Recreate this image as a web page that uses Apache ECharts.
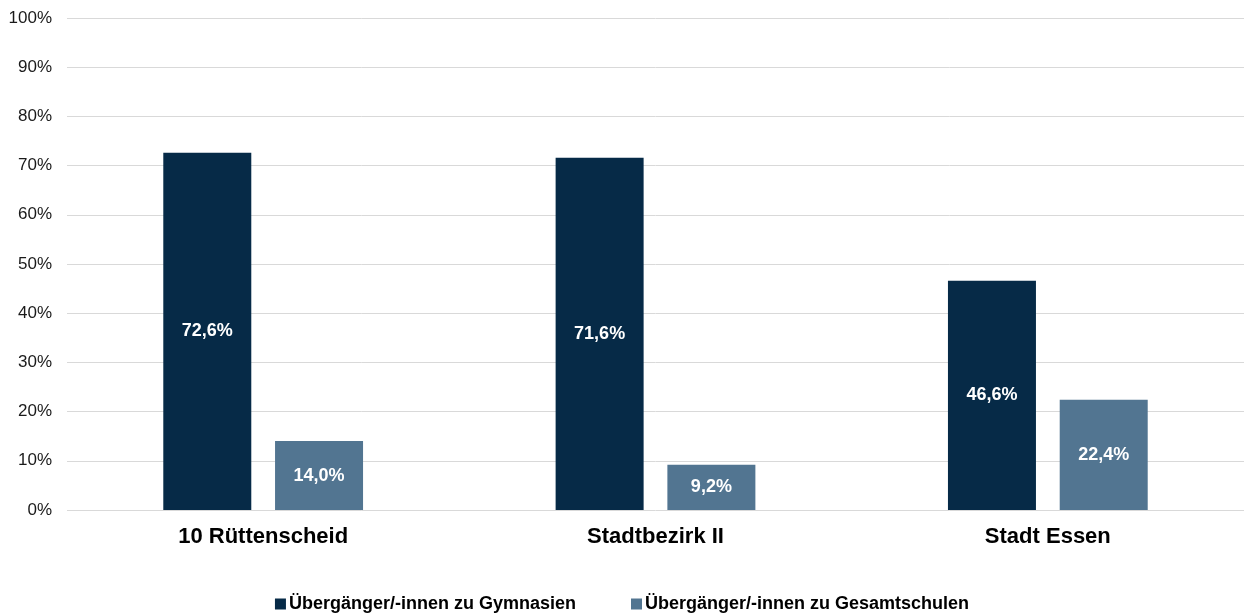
<!DOCTYPE html>
<html><head><meta charset="utf-8">
<script src="https://cdn.jsdelivr.net/npm/echarts@6/dist/echarts.min.js"></script>
<style>html,body{margin:0;padding:0;background:#fff}#c{width:1244px;height:616px}</style>
</head><body><div id="c"></div>
<script>
const categories = ['10 Rüttenscheid', 'Stadtbezirk II', 'Stadt Essen'];
const seriesNames = ['Übergänger/-innen zu Gymnasien', 'Übergänger/-innen zu Gesamtschulen'];
const gymnasien = [72.6, 71.6, 46.6];
const gesamtschulen = [14.0, 9.2, 22.4];
const colors = ['#062a47', '#527591'];

const FONT = 'Liberation Sans, Arial, sans-serif';
const chart = echarts.init(document.getElementById('c'), null, {renderer: 'canvas'});
const labelCfg = {
  show: true, position: 'inside', color: '#fff', fontWeight: 'bold',
  fontFamily: FONT, fontSize: 18,
  formatter: p => p.value.toFixed(1).replace('.', ',') + '%'
};
chart.setOption({
  animation: false,
  grid: {left: 67, right: -4, top: 18, bottom: 106, containLabel: false},
  legend: {
    top: 590, left: 'center', padding: 5, itemWidth: 11, itemHeight: 11, itemGap: 55,
    icon: 'rect',
    textStyle: {fontFamily: FONT, fontSize: 18, fontWeight: 'bold', color: '#000', padding: [0,0,0,-2]},
    data: seriesNames
  },
  xAxis: {
    type: 'category', data: categories,
    axisLine: {show: false}, axisTick: {show: false},
    axisLabel: {fontFamily: FONT, fontSize: 22, fontWeight: 'bold', color: '#000', margin: 16}
  },
  yAxis: {
    type: 'value', min: 0, max: 100, interval: 10,
    axisLabel: {formatter: '{value}%', fontFamily: FONT, fontSize: 17, color: '#1a1a1a', margin: 15},
    splitLine: {lineStyle: {color: '#d9d9d9', width: 1}},
    axisLine: {show: false}, axisTick: {show: false}
  },
  series: [
    {name: seriesNames[0], type: 'bar', data: gymnasien, barWidth: 88, barGap: '27%', itemStyle: {color: colors[0]}, label: labelCfg},
    {name: seriesNames[1], type: 'bar', data: gesamtschulen, barWidth: 88, itemStyle: {color: colors[1]}, label: labelCfg}
  ]
});
</script></body></html>
